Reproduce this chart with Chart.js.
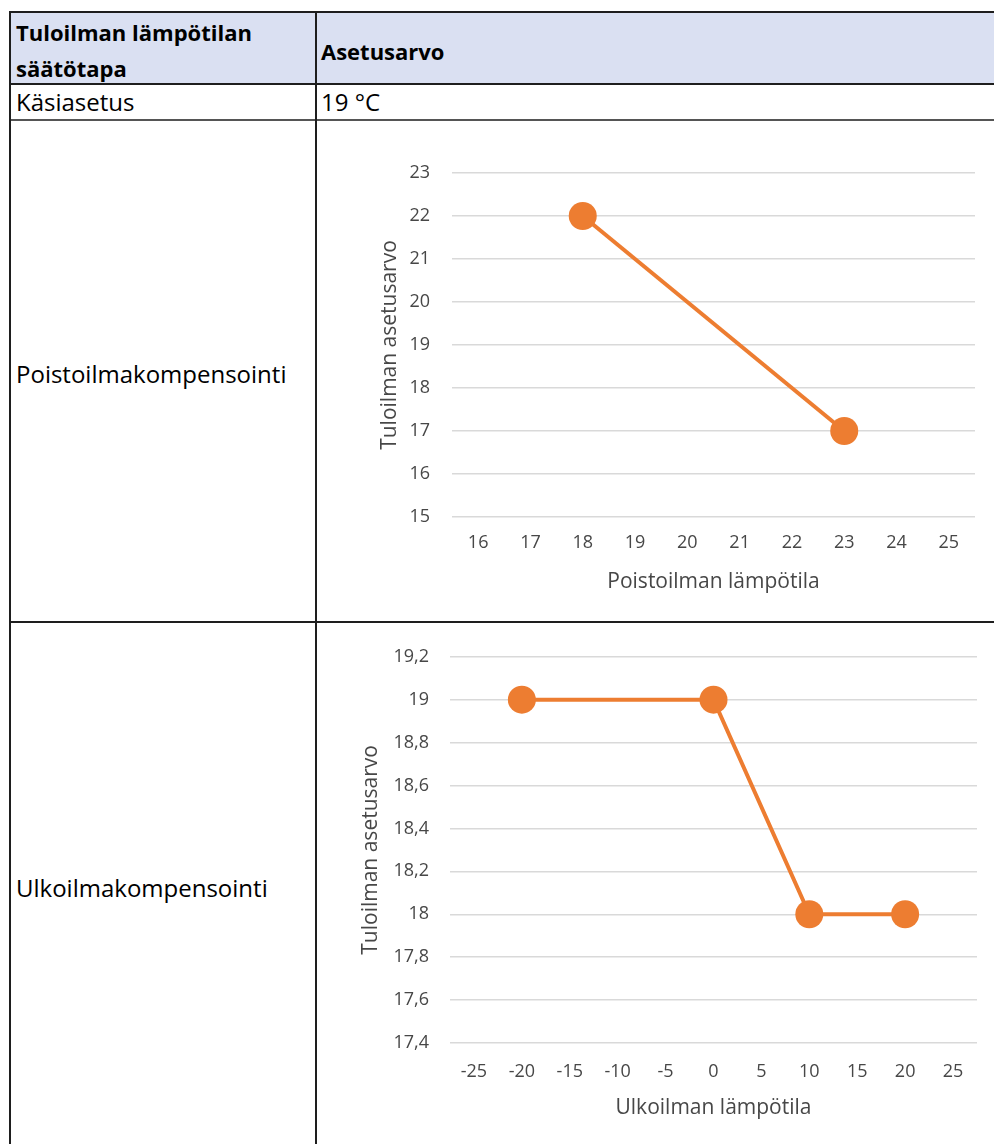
<!DOCTYPE html>
<html lang="fi">
<head>
<meta charset="utf-8">
<title>Tuloilman lämpötilan säätötapa</title>
<script src="https://cdn.jsdelivr.net/npm/chart.js@4/dist/chart.umd.min.js"></script>
<style>
  html, body { margin: 0; padding: 0; background: #fff; }
  body { width: 994px; height: 1144px; position: relative; overflow: hidden;
         font-family: "Open Sans", "Noto Sans", sans-serif; color: #000; }
  .hdr { position: absolute; left: 10px; top: 12px; width: 984px; height: 72px; background: #dae0f2; }
  .hl { position: absolute; height: 2px; background: #1e1e1e; }
  .vl { position: absolute; width: 2px; background: #1e1e1e; }
  .txt { position: absolute; font-size: 24px; white-space: nowrap; line-height: 36px; }
  .b { font-weight: bold; font-size: 22px; }
  .box { position: absolute; }
</style>
</head>
<body>
<div class="hdr"></div>
<!-- table rules -->
<div class="hl" style="left:10px; top:11px; width:984px;"></div>
<div class="hl" style="left:10px; top:83px; width:984px;"></div>
<div class="hl" style="left:10px; top:119px; width:984px; background:#555;"></div>
<div class="hl" style="left:10px; top:621px; width:984px;"></div>
<div class="vl" style="left:9px; top:11px; height:1133px;"></div>
<div class="vl" style="left:315px; top:11px; height:1133px;"></div>

<div class="txt b" style="left:16px; top:14px;">Tuloilman lämpötilan</div>
<div class="txt b" style="left:16px; top:50px;">säätötapa</div>
<div class="txt b" style="left:321px; top:33px;">Asetusarvo</div>
<div class="txt" style="left:16px; top:84px;">Käsiasetus</div>
<div class="txt" style="left:321px; top:84px;">19 °C</div>
<div class="txt" style="left:16px; top:356px;">Poistoilmakompensointi</div>
<div class="txt" style="left:16px; top:870px;">Ulkoilmakompensointi</div>

<div class="box" style="left:317px; top:125px; width:677px; height:490px;"><canvas id="c1"></canvas></div>
<div class="box" style="left:317px; top:625px; width:677px; height:519px;"><canvas id="c2"></canvas></div>

<script>
// Poistoilmakompensointi: exhaust air temperature -> supply air setpoint
const exhaustTemps = ['16', '17', '18', '19', '20', '21', '22', '23', '24', '25'];
const exhaustSetpoints = [null, null, 22, null, null, null, null, 17, null, null];
const exhaustYTicks = { min: 15, max: 23, step: 1 };

// Ulkoilmakompensointi: outdoor temperature -> supply air setpoint
const outdoorTemps = ['-25', '-20', '-15', '-10', '-5', '0', '5', '10', '15', '20', '25'];
const outdoorSetpoints = [null, 19, null, null, null, 19, null, 18, null, 18, null];
const outdoorYTicks = { min: 17.4, max: 19.2, step: 0.2 };

const yTitle = 'Tuloilman asetusarvo';
const exhaustXTitle = 'Poistoilman lämpötila';
const outdoorXTitle = 'Ulkoilman lämpötila';

const ORANGE = '#ed7d31';
const TICK = '#474747';
const GRID = '#d9d9d9';
const FONT = '"Open Sans", "Noto Sans", sans-serif';

function fiNumber(v) {
  return String(Math.round(v * 10) / 10).replace('.', ',');
}

function makeChart(id, labels, data, yRange, xTitle, g) {
  return new Chart(document.getElementById(id), {
    type: 'line',
    data: {
      labels: labels,
      datasets: [{
        data: data,
        spanGaps: true,
        borderColor: ORANGE,
        backgroundColor: ORANGE,
        borderWidth: 4,
        pointRadius: 14,
        pointHoverRadius: 14,
        pointBorderWidth: 0,
        pointBackgroundColor: ORANGE,
        tension: 0
      }]
    },
    options: {
      responsive: true,
      maintainAspectRatio: false,
      animation: false,
      events: [],
      layout: { padding: g.padding },
      plugins: { legend: { display: false }, tooltip: { enabled: false } },
      scales: {
        x: {
          type: 'category',
          offset: true,
          grid: { display: false, drawTicks: false },
          border: { display: false },
          ticks: { color: TICK, font: { family: FONT, size: 18, lineHeight: 1.2 },
                   padding: g.xTickPad, maxRotation: 0, autoSkip: false },
          title: { display: true, text: xTitle, color: TICK, padding: 0,
                   font: { family: FONT, size: 21, lineHeight: 1.2 } },
          afterFit: s => { s.height = g.xHeight; }
        },
        y: {
          min: yRange.min,
          max: yRange.max,
          grid: { color: GRID, lineWidth: 1.5, drawTicks: false },
          border: { display: false },
          ticks: { stepSize: yRange.step, color: TICK, padding: g.yTickPad,
                   font: { family: FONT, size: 18, lineHeight: 1.2 },
                   callback: v => fiNumber(v) },
          title: { display: true, text: yTitle, color: TICK, padding: 0,
                   font: { family: FONT, size: 21, lineHeight: 1.2 } },
          afterFit: s => { s.width = g.yWidth; }
        }
      }
    }
  });
}

makeChart('c1', exhaustTemps, exhaustSetpoints, exhaustYTicks, exhaustXTitle, {
  padding: { left: 60, top: 48, right: 19, bottom: 20 },
  yWidth: 75, xHeight: 78, xTickPad: 15, yTickPad: 22
});

makeChart('c2', outdoorTemps, outdoorSetpoints, outdoorYTicks, outdoorXTitle, {
  padding: { left: 41, top: 31, right: 17, bottom: 23 },
  yWidth: 92, xHeight: 78, xTickPad: 18, yTickPad: 21
});
</script>
</body>
</html>
